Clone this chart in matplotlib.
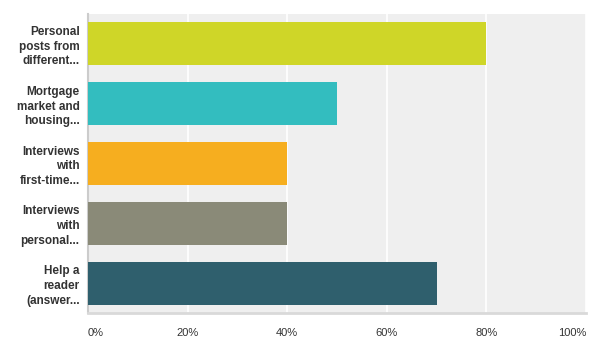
import matplotlib
matplotlib.use("Agg")
import matplotlib.pyplot as plt

categories = [
    "Personal\nposts from\ndifferent...",
    "Mortgage\nmarket and\nhousing...",
    "Interviews\nwith\nfirst-time...",
    "Interviews\nwith\npersonal...",
    "Help a\nreader\n(answer...",
]
values = [80, 50, 40, 40, 70]
colors = ["#cfd628", "#33bdbf", "#f6ae1f", "#8a8a78", "#2f5f6d"]
xticks = [0, 20, 40, 60, 80, 100]
xtick_labels = ["0%", "20%", "40%", "60%", "80%", "100%"]

plt.rcParams["font.family"] = ["Liberation Sans", "DejaVu Sans"]

fig = plt.figure(figsize=(6.08, 3.61), dpi=100)
ax = fig.add_axes([88 / 608, 1 - 313 / 361, 498 / 608, 299 / 361])
ax.set_facecolor("#efefef")

ypos = list(range(len(categories)))
ax.barh(ypos, values, height=0.72, color=colors, zorder=3)
ax.set_ylim(len(categories) - 0.5, -0.5)
ax.set_xlim(0, 100)

ax.set_xticks(xticks)
ax.set_xticklabels(xtick_labels, fontsize=8, color="#333333")
ax.xaxis.grid(True, color="white", linewidth=1.2, zorder=1)
ax.tick_params(axis="x", length=0, pad=11)
labels = ax.get_xticklabels()
labels[0].set_horizontalalignment("left")
labels[-1].set_horizontalalignment("right")

ax.set_yticks(ypos)
ax.set_yticklabels(categories, fontsize=8.5, fontweight="bold", color="#333333",
                   linespacing=1.3)
ax.tick_params(axis="y", length=0, pad=6)

for s in ["top", "right"]:
    ax.spines[s].set_visible(False)
ax.spines["left"].set_color("#cccccc")
ax.spines["left"].set_linewidth(1.5)
ax.spines["bottom"].set_color("#d9d9d9")
ax.spines["bottom"].set_linewidth(2)

fig.savefig("out.png", dpi=100)
